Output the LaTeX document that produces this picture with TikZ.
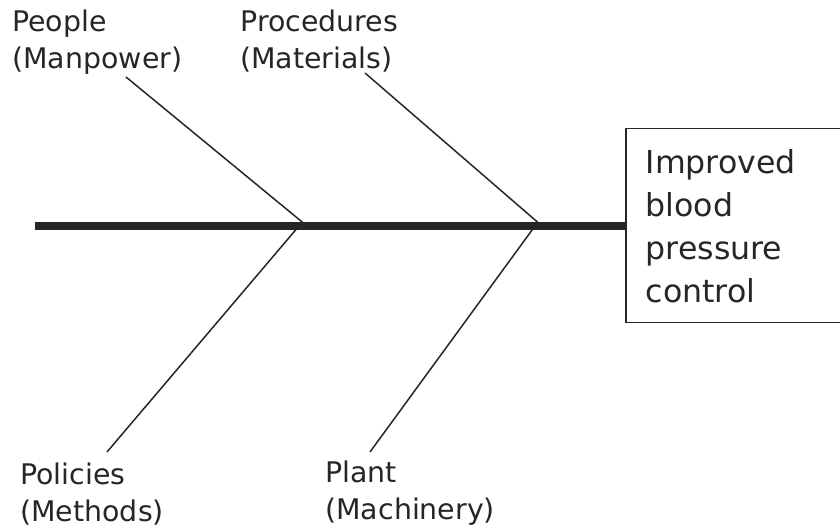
\documentclass[tikz,border=0pt]{standalone}
\usepackage{fontspec}
\setmainfont{DejaVu Sans}
\begin{document}
\begin{tikzpicture}[x=0.5pt, y=-0.5pt]
\tikzset{cause/.style={anchor=base west, inner sep=0pt, text width=110pt, align=left, text=black!85, font=\fontsize{14.2}{18.5}\selectfont},
effectbox/.style={draw=black!85, line width=0.75pt, anchor=north west, minimum width=110pt, minimum height=97pt, text width=90pt, inner xsep=10pt, inner ysep=0pt, align=left, text=black!85, font=\fontsize{15.8}{21.5}\selectfont},
bone/.style={draw=black!85, line width=0.75pt},
spine/.style={draw=black!85, line width=4pt}}
\useasboundingbox (0,0) rectangle (840,528);
\clip (0,0) rectangle (840,528);
% head of the fish
\node[effectbox] (effect) at (625,128) {Improved\\blood\\pressure\\control};
% causes
\node[cause] (people) at (12,32) {People\\(Manpower)};
\node[cause] (procedures) at (240,32) {Procedures\\(Materials)};
\node[cause] (policies) at (20,485) {Policies\\(Methods)};
\node[cause] (plant) at (325,483) {Plant\\(Machinery)};
% bone ends
\coordinate (tail) at (35,226);
\coordinate (Epeople) at (126,77);
\coordinate (Eprocedures) at (365,73);
\coordinate (Epolicies) at (107,452);
\coordinate (Eplant) at (370,452);
\coordinate (Jpeople) at (307,226);
\coordinate (Jprocedures) at (542,226);
\coordinate (Jpolicies) at (299,226);
\coordinate (Jplant) at (535,226);
\draw[bone] (Epeople) -- (Jpeople);
\draw[bone] (Eprocedures) -- (Jprocedures);
\draw[bone] (Epolicies) -- (Jpolicies);
\draw[bone] (Eplant) -- (Jplant);
\draw[spine] (tail) -- (tail -| effect.west);
\end{tikzpicture}
\end{document}
